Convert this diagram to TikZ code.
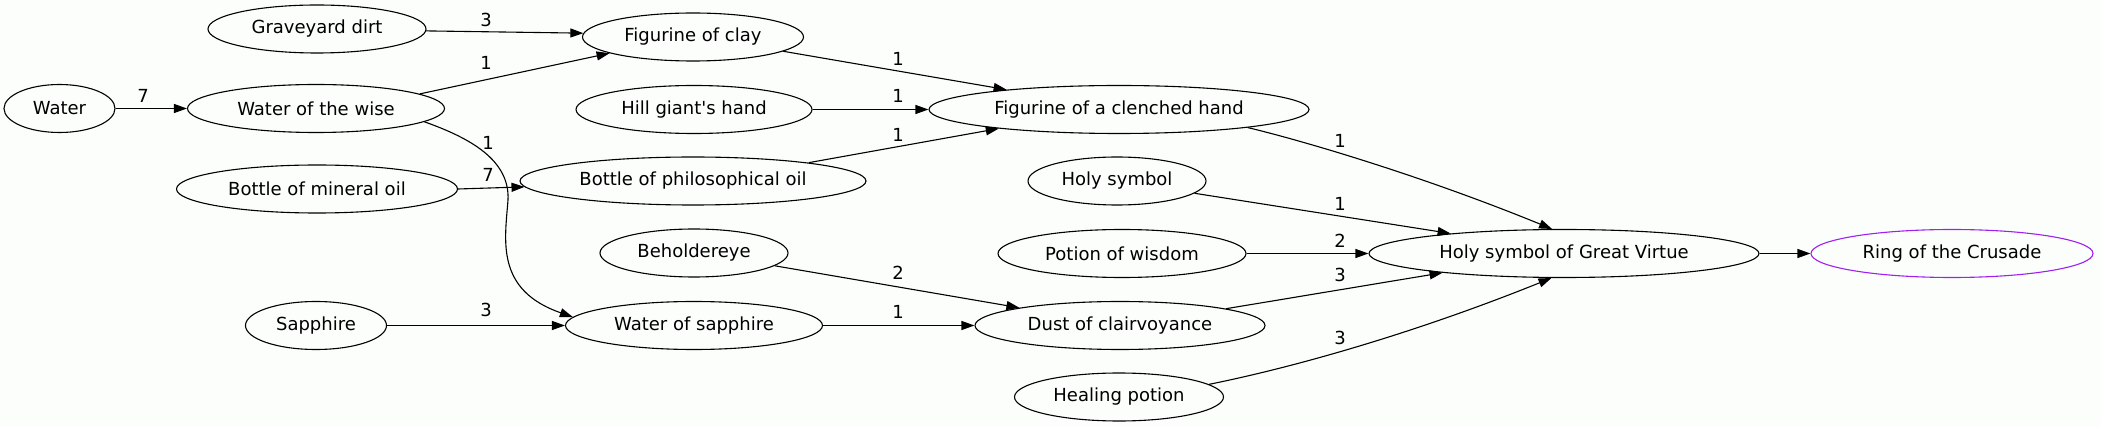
\documentclass[tikz,border=0pt]{standalone}
\usepackage{fontspec}
\setmainfont{DejaVu Sans}[Ligatures=TeXOff]
\usetikzlibrary{shapes.geometric,arrows.meta}
\definecolor{bgc}{RGB}{252,254,252}
\definecolor{gvpurple}{RGB}{160,32,240}
\begin{document}
\begin{tikzpicture}[x=1pt,y=-1pt,
  nd/.style={ellipse,draw=black,line width=1.1pt,inner sep=0pt,minimum height=48pt,
    font=\fontsize{18}{22}\selectfont},
  lab/.style={inner sep=0pt,font=\fontsize{18}{22}\selectfont},
  edge/.style={draw=black,line width=1.1pt,-{Triangle[length=13pt,width=9pt]}}]
\fill[bgc] (0,0) rectangle (2101,427);
\useasboundingbox (0,0) rectangle (2101,427);
% nodes
\node[nd,minimum width=111pt] (water) at (59.5,108.5) {Water};
\node[nd,minimum width=218pt] (grave) at (317,29) {Graveyard dirt};
\node[nd,minimum width=257pt] (wise) at (316,108.5) {Water of the wise};
\node[nd,minimum width=281pt] (mineral) at (317,189) {Bottle of mineral oil};
\node[nd,minimum width=141pt] (sapph) at (316,325.5) {Sapphire};
\node[nd,minimum width=221pt] (clay) at (693,37) {Figurine of clay};
\node[nd,minimum width=236pt] (hill) at (694,109.5) {Hill giant's hand};
\node[nd,minimum width=346pt] (phil) at (693,181) {Bottle of philosophical oil};
\node[nd,minimum width=188pt] (behold) at (694,253) {Beholdereye};
\node[nd,minimum width=257pt] (wsapph) at (694,325.5) {Water of sapphire};
\node[nd,minimum width=380pt] (clenched) at (1119,109.5) {Figurine of a clenched hand};
\node[nd,minimum width=178pt] (holy) at (1117,181) {Holy symbol};
\node[nd,minimum width=248pt] (potion) at (1122,253.5) {Potion of wisdom};
\node[nd,minimum width=290pt] (dust) at (1120,325.5) {Dust of clairvoyance};
\node[nd,minimum width=209pt] (healing) at (1119,397) {Healing potion};
\node[nd,minimum width=390pt] (hsgv) at (1564,253.5) {Holy symbol of Great Virtue};
\node[nd,minimum width=282pt,draw=gvpurple] (ring) at (1952,253.5) {Ring of the Crusade};
% edges
\draw[edge] (water.east) -- (wise.west);
\draw[edge] (grave.-1.5) -- (clay.178.4);
\draw[edge] (wise.8.9) -- (clay.191.2);
\draw[edge] (wise.-7.6) .. controls (470,138) and (510,160) .. (508,200)
  .. controls (505,240) and (495,290) .. (wsapph.176.5);
\draw[edge] (mineral.east) -- (phil.182.1);
\draw[edge] (sapph.east) -- (wsapph.west);
\draw[edge] (clay.-9.4) -- (clenched.170.4);
\draw[edge] (hill.east) -- (clenched.west);
\draw[edge] (phil.9.05) -- (clenched.189.6);
\draw[edge] (behold.-9.8) -- (dust.170.4);
\draw[edge] (wsapph.east) -- (dust.west);
\draw[edge] (dust.9.2) -- (hsgv.189.3);
\draw[edge] (holy.-9.2) -- (hsgv.170.4);
\draw[edge] (potion.east) -- (hsgv.west);
\draw[edge] (clenched.-8.6) .. controls (1300,140) and (1420,175) .. (hsgv.116);
\draw[edge] (healing.8.5) .. controls (1300,366) and (1420,331) .. (hsgv.243.4);
\draw[edge] (hsgv.east) -- (ring.west);
% labels
\node[lab] (l1) at (143,96) {7};
\node[lab] (l2) at (486,20) {3};
\node[lab] (l3) at (486,63) {1};
\node[lab] (l4) at (488,143) {1};
\node[lab] (l5) at (488,175) {7};
\node[lab] (l6) at (486,310) {3};
\node[lab] (l7) at (898,59) {1};
\node[lab] (l8) at (898,96) {1};
\node[lab] (l9) at (898,135) {1};
\node[lab] (l10) at (898,273) {2};
\node[lab] (l11) at (898,312) {1};
\node[lab] (l12) at (1340,141) {1};
\node[lab] (l13) at (1340,204) {1};
\node[lab] (l14) at (1340,241) {2};
\node[lab] (l15) at (1340,275) {3};
\node[lab] (l16) at (1340,338) {3};
\end{tikzpicture}
\end{document}
